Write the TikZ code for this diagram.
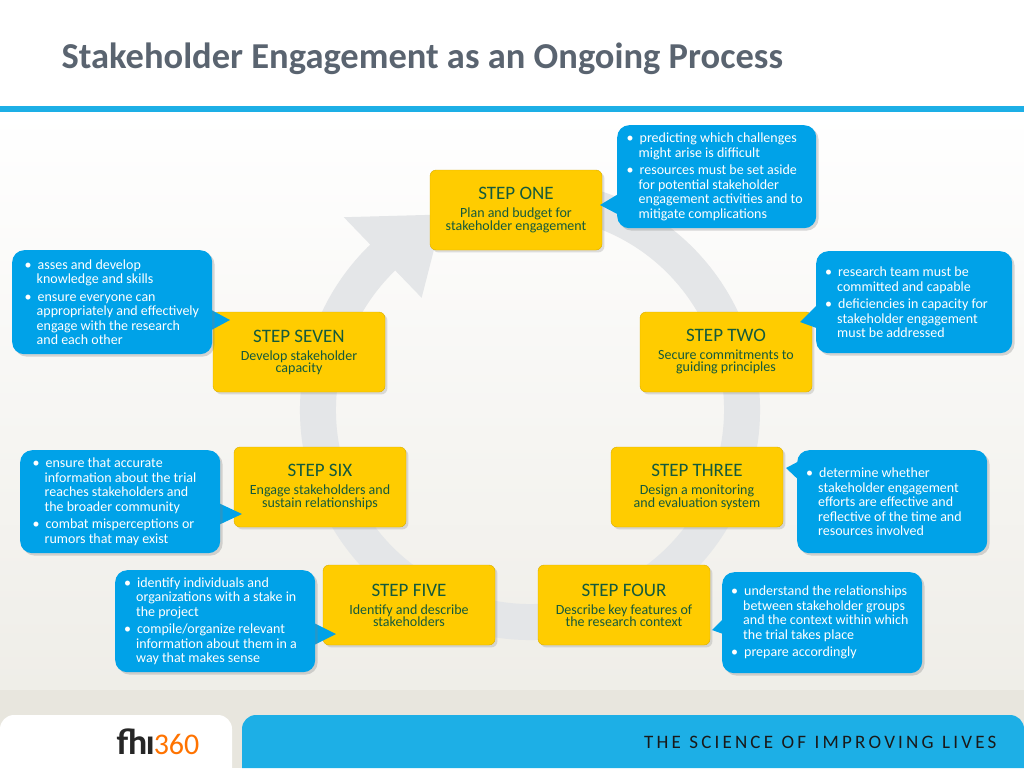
\documentclass[tikz,border=0pt]{standalone}
\usepackage{fontspec}
\setmainfont{Carlito}
\usetikzlibrary{shadows,calc}
\definecolor{stepyellow}{RGB}{255,204,0}
\definecolor{stepgreen}{RGB}{20,90,60}
\definecolor{callblue}{RGB}{0,162,232}
\definecolor{barblue}{RGB}{29,175,230}
\definecolor{titlegray}{RGB}{90,100,112}
\definecolor{footgray}{RGB}{232,230,222}
\definecolor{ringgray}{RGB}{228,230,232}
\tikzset{
  stepbox/.style={fill=stepyellow, draw=stepyellow!85!black, rounded corners=6pt,
    minimum width=172pt, minimum height=80pt, align=center, text=stepgreen,
    drop shadow={opacity=0.25}},
  callout/.style={fill=callblue, rounded corners=12pt, text=white,
    inner sep=6pt, anchor=north west, drop shadow={opacity=0.3}},
  tip/.style={fill=callblue}
}
\newcommand{\stagehead}[1]{{\fontsize{19}{22}\selectfont #1}}
\newcommand{\stagesub}{\fontsize{14}{17}\selectfont}
\newenvironment{pts}[1]{\begin{minipage}{#1}\fontsize{14}{14.5}\selectfont\raggedright
  \begin{list}{\textbullet}{\leftmargin=12pt\labelwidth=6pt\labelsep=6pt\itemsep=3pt\parsep=0pt\topsep=0pt}}{\end{list}\end{minipage}}
\begin{document}
\begin{tikzpicture}[x=1pt, y=-1pt]
  \useasboundingbox (0,0) rectangle (1024,768);
  % background
  \shade[top color=white, bottom color=footgray!70] (0,112) rectangle (1024,690);
  \fill[footgray] (0,690) rectangle (1024,768);
  \fill[barblue] (0,106) rectangle (1024,112);
  \node[anchor=west, text=titlegray, font=\bfseries\fontsize{36.5}{40}\selectfont] (title) at (58,59)
    {Stakeholder Engagement as an Ongoing Process};
  % footer
  \fill[white, rounded corners=14pt] (0,768) -- (0,715) -- (232,715) -- (232,768);
  \fill[white] (0,740) rectangle (20,768);
  \fill[barblue, rounded corners=14pt] (242,768) -- (242,715) -- (1024,715) -- (1024,768);
  \node[anchor=west, font=\bfseries\fontsize{36}{38}\selectfont, text=black!85] (fhi) at (113,742)
    {fh\kern-1pt\i\kern-1pt\textcolor{orange!90!red}{\mdseries\fontsize{30}{32}\selectfont 360}};
  \node[anchor=east, font=\fontsize{19}{22}\selectfont, text=black!90] (slogan) at (1000,742)
    {T\,H\,E\ \ S\,C\,I\,E\,N\,C\,E\ \ O\,F\ \ I\,M\,P\,R\,O\,V\,I\,N\,G\ \ L\,I\,V\,E\,S};
  % ring arrow
  \coordinate (ctr) at (530,410);
  \draw[ringgray, line width=36pt] ($(ctr)+(-75:212)$) arc[start angle=-75, end angle=228, radius=212];
  \fill[ringgray] ($(ctr)+(226:268)$) -- ($(ctr)+(246:214)$) -- ($(ctr)+(226:156)$) -- cycle;
  % steps
  \node[stepbox] (one)   at (516,210) {\stagehead{STEP ONE}\\[6pt]\stagesub Plan and budget for\\\stagesub stakeholder engagement};
  \node[stepbox] (two)   at (726,352) {\stagehead{STEP TWO}\\[6pt]\stagesub Secure commitments to\\\stagesub guiding principles};
  \node[stepbox] (three) at (697,487) {\stagehead{STEP THREE}\\[6pt]\stagesub Design a monitoring\\\stagesub and evaluation system};
  \node[stepbox] (four)  at (624,605) {\stagehead{STEP FOUR}\\[6pt]\stagesub Describe key features of\\\stagesub the research context};
  \node[stepbox] (five)  at (409,605) {\stagehead{STEP FIVE}\\[6pt]\stagesub Identify and describe\\\stagesub stakeholders};
  \node[stepbox] (six)   at (320,487) {\stagehead{STEP SIX}\\[6pt]\stagesub Engage stakeholders and\\\stagesub sustain relationships};
  \node[stepbox] (seven) at (299,352) {\stagehead{STEP SEVEN}\\[6pt]\stagesub Develop stakeholder\\\stagesub capacity};
  % callouts
  \coordinate (t1) at (600,205); \coordinate (t2) at (800,322); \coordinate (t3) at (786,468);
  \coordinate (t4) at (712,630); \coordinate (t5) at (336,634); \coordinate (t6) at (242,514);
  \coordinate (t7) at (230,320);
  \fill[tip] (t1) -- (625,190) -- (625,218) -- cycle;
  \fill[tip] (t2) -- (822,300) -- (822,330) -- cycle;
  \fill[tip] (t3) -- (805,458) -- (805,486) -- cycle;
  \fill[tip] (t4) -- (730,612) -- (740,640) -- cycle;
  \fill[tip] (t5) -- (308,620) -- (308,648) -- cycle;
  \fill[tip] (t6) -- (212,500) -- (212,528) -- cycle;
  \fill[tip] (t7) -- (204,306) -- (204,334) -- cycle;
  \node[callout, minimum width=199pt, minimum height=103pt] (c1) at (617,125)
    {\begin{pts}{180pt}\item predicting which challenges might arise is difficult
     \item resources must be set aside for potential stakeholder engagement activities and to mitigate complications\end{pts}};
  \node[callout, minimum width=196pt, minimum height=102pt] (c2) at (816,251)
    {\begin{pts}{178pt}\item research team must be committed and capable
     \item deficiencies in capacity for stakeholder engagement must be addressed\end{pts}};
  \node[callout, minimum width=190pt, minimum height=103pt] (c3) at (797,450)
    {\begin{pts}{172pt}\item determine whether stakeholder engagement efforts are effective and reflective of the time and resources involved\end{pts}};
  \node[callout, minimum width=200pt, minimum height=101pt] (c4) at (722,572)
    {\begin{pts}{182pt}\item understand the relationships between stakeholder groups and the context within which the trial takes place
     \item prepare accordingly\end{pts}};
  \node[callout, minimum width=200pt, minimum height=102pt] (c5) at (115,570)
    {\begin{pts}{182pt}\item identify individuals and organizations with a stake in the project
     \item compile/organize relevant information about them in a way that makes sense\end{pts}};
  \node[callout, minimum width=200pt, minimum height=103pt] (c6) at (20,450)
    {\begin{pts}{175pt}\item ensure that accurate information about the trial reaches stakeholders and the broader community
     \item combat misperceptions or rumors that may exist\end{pts}};
  \node[callout, minimum width=200pt, minimum height=104pt] (c7) at (12,250)
    {\begin{pts}{175pt}\item asses and develop knowledge and skills
     \item ensure everyone can appropriately and effectively engage with the research and each other\end{pts}};
\end{tikzpicture}
\end{document}
